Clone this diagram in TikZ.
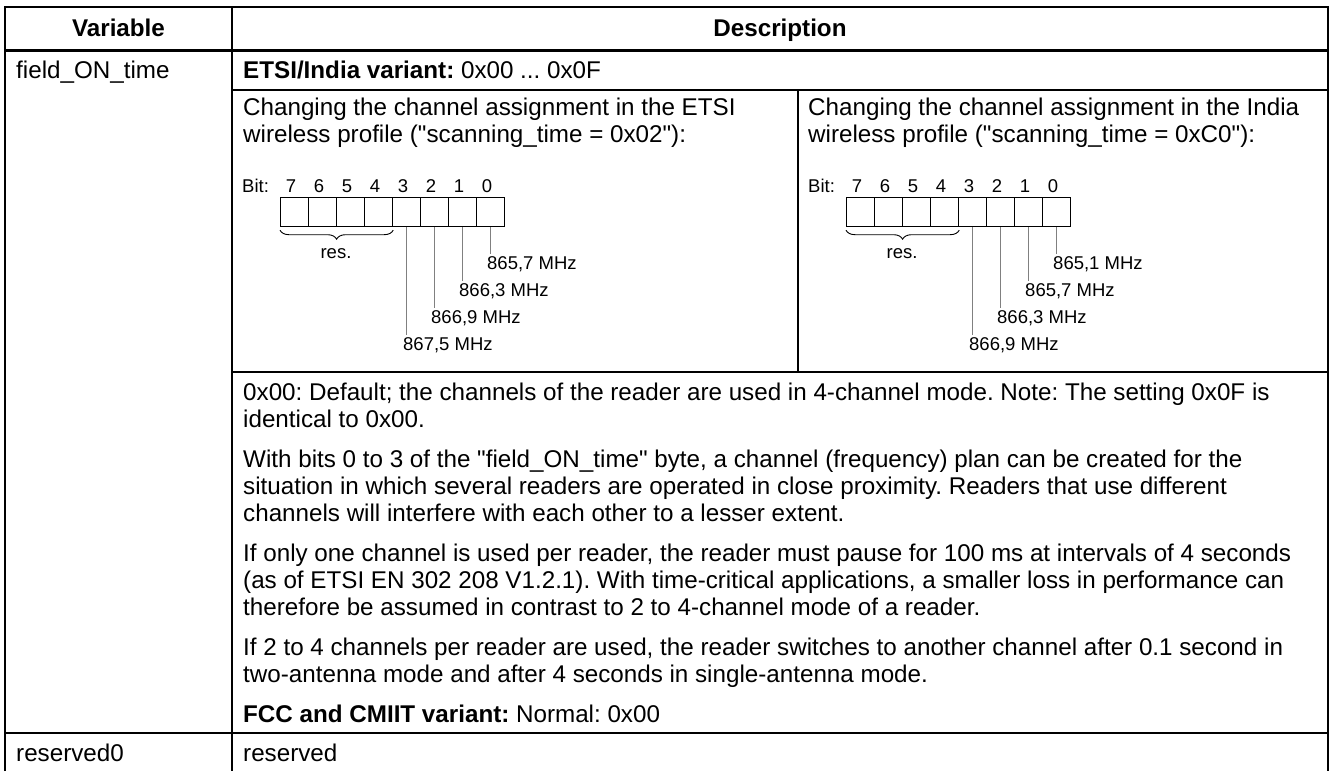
\documentclass[tikz,border=0pt]{standalone}
\usepackage{fontspec}
\setmainfont{Liberation Sans}[Ligatures=TeXOff]
\frenchspacing
\usetikzlibrary{decorations.pathreplacing}

% One bit-field sketch: #1 name prefix, #2 left edge of its cell, #3..#6 labels of bits 0..3
\newcommand\bitdiagram[6]{%
  \node[small, anchor=base west] (#1bit) at (#2+10,192.5) {Bit:};
  \foreach \i in {0,...,7} {
    \node[bitbox] (#1b\i) at ({#2+48+(7-\i)*28},197) {};
    \node[small, anchor=base] (#1n\i) at ({#2+48+(7-\i)*28+11},192.5) {\i};
  }
  \draw[bracestyle] ([yshift=-3pt]#1b7.south west) -- ([yshift=-3pt]#1b4.south east);
  \node[small, anchor=base] (#1res) at (#2+104,258) {res.};
  \foreach \i/\lab in {0/{#3},1/{#4},2/{#5},3/{#6}} {
    \node[small, anchor=base west] (#1f\i) at ({#2+48+(7-\i)*28+11},{269.6+27*\i}) {\lab};
    \draw[lead] (#1b\i.south) -- (#1b\i.south |- #1f\i.north);
  }
}

\begin{document}
\begin{tikzpicture}[x=1pt,y=-1pt,
  grid/.style={line width=2pt},
  headrule/.style={line width=3pt},
  subgrid/.style={line width=1.4pt},
  txt/.style={anchor=base west, inner sep=0pt, font=\fontsize{24.2}{27}\selectfont},
  hd/.style={anchor=base, inner sep=0pt, font=\fontsize{24.2}{27}\selectfont\bfseries},
  small/.style={inner sep=0pt, font=\fontsize{18.5}{20}\selectfont},
  bitbox/.style={draw, line width=1.2pt, minimum width=28pt, minimum height=29pt,
                 inner sep=0pt, anchor=north west},
  lead/.style={draw=black!50, line width=1pt, shorten >=2pt},
  bracestyle/.style={decorate, decoration={brace, amplitude=9pt, mirror}, line width=0.9pt},
]
\useasboundingbox (0,0) rectangle (1330,771);
\fill[white] (0,0) rectangle (1330,771);

% table frame and rules
\draw[grid] (5,771) -- (5,7) -- (1328,7) -- (1328,771);
\draw[grid] (232,7) -- (232,771);
\draw[headrule] (5,50) -- (1328,50);
\draw[grid] (5,733) -- (1328,733);
\draw[subgrid] (232,90) -- (1328,90);
\draw[subgrid] (798,90) -- (798,372);
\draw[subgrid] (232,372) -- (1328,372);

% header
\node[hd] (hvar) at (118.5,36.5) {Variable};
\node[hd] (hdesc) at (780,36.5) {Description};

% first row
\node[txt] (var1) at (16,78.5) {field\_ON\_time};
\node[txt] (etsi) at (243,78.5) {\textbf{ETSI/India variant:} 0x00 ... 0x0F};

\node[txt] (lc1) at (243,115.5) {Changing the channel assignment in the ETSI};
\node[txt] (lc2) at (243,142.5) {wireless profile ("scanning\_time = 0x02"):};
\node[txt] (rc1) at (808,115.5) {Changing the channel assignment in the India};
\node[txt] (rc2) at (808,142.5) {wireless profile ("scanning\_time = 0xC0"):};

\bitdiagram{L}{232}{865,7 MHz}{866,3 MHz}{866,9 MHz}{867,5 MHz}
\bitdiagram{R}{798}{865,1 MHz}{865,7 MHz}{866,3 MHz}{866,9 MHz}

% notes
\node[txt] (p1a) at (243,400.5) {0x00: Default; the channels of the reader are used in 4-channel mode. Note: The setting 0x0F is};
\node[txt] (p1b) at (243,427.5) {identical to 0x00.};
\node[txt] (p2a) at (243,467.5) {With bits 0 to 3 of the "field\_ON\_time" byte, a channel (frequency) plan can be created for the};
\node[txt] (p2b) at (243,494.5) {situation in which several readers are operated in close proximity. Readers that use different};
\node[txt] (p2c) at (243,521.5) {channels will interfere with each other to a lesser extent.};
\node[txt] (p3a) at (243,561.5) {If only one channel is used per reader, the reader must pause for 100 ms at intervals of 4 seconds};
\node[txt] (p3b) at (243,588.5) {(as of ETSI EN 302 208 V1.2.1). With time-critical applications, a smaller loss in performance can};
\node[txt] (p3c) at (243,615.5) {therefore be assumed in contrast to 2 to 4-channel mode of a reader.};
\node[txt] (p4a) at (243,655.5) {If 2 to 4 channels per reader are used, the reader switches to another channel after 0.1 second in};
\node[txt] (p4b) at (243,682.5) {two-antenna mode and after 4 seconds in single-antenna mode.};
\node[txt] (p5) at (243,722.5) {\textbf{FCC and CMIIT variant:} Normal: 0x00};

% second row
\node[txt] (var2) at (16,761.5) {reserved0};
\node[txt] (res2) at (243,761.5) {reserved};
\end{tikzpicture}
\end{document}
